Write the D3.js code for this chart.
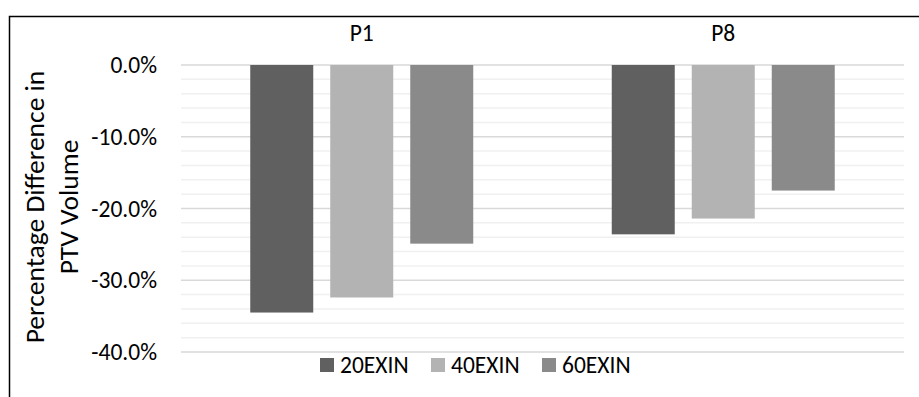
<!DOCTYPE html>
<html>
<head>
<meta charset="utf-8">
<script src="https://cdn.jsdelivr.net/npm/d3@7"></script>
<style>
  html, body { margin: 0; padding: 0; background: #fff; }
  svg { display: block; font-family: Carlito, Lato, "Open Sans", sans-serif; }
</style>
</head>
<body>
<svg id="chart" width="919" height="397"></svg>
<script>
// Patients (categories) and planning series
const categories = ["P1", "P8"];
const seriesNames = ["20EXIN", "40EXIN", "60EXIN"];
const values20 = [-34.5, -23.6];
const values40 = [-32.4, -21.4];
const values60 = [-24.9, -17.5];
const yTicks = [0, -10, -20, -30, -40];
const colors = ["#606060", "#b3b3b3", "#8a8a8a"];

const seriesValues = [values20, values40, values60];
const data = categories.map((c, i) => ({
  cat: c,
  vals: seriesNames.map((s, j) => ({ s, v: seriesValues[j][i], color: colors[j] }))
}));

const svg = d3.select("#chart");
const W = 919, H = 397;
const plot = { left: 181, right: 904, top: 65, bottom: 352 };
const fontTick = 23.5, fontTitle = 27.5;

// outer frame
svg.append("rect")
  .attr("x", 9.5).attr("y", 16.5)
  .attr("width", W).attr("height", H)
  .attr("fill", "none").attr("stroke", "#000").attr("stroke-width", 1.5);

const y = d3.scaleLinear().domain([-40, 0]).range([plot.bottom, plot.top]);
const x0 = d3.scaleBand().domain(categories).range([plot.left, plot.right]);
const outerGap = 69.25;
const x1 = d3.scaleBand().domain(seriesNames)
  .range([outerGap, x0.bandwidth() - outerGap])
  .paddingInner(17 / 80).paddingOuter(0);

// minor gridlines every 2%
const minor = d3.range(-40, 0.001, 2).filter(v => Math.abs(v % 10) > 0.001);
svg.append("g").selectAll("line").data(minor).join("line")
  .attr("x1", plot.left).attr("x2", plot.right)
  .attr("y1", d => y(d)).attr("y2", d => y(d))
  .attr("stroke", "#f0f0f0").attr("stroke-width", 1.5);

// major gridlines
svg.append("g").selectAll("line").data(yTicks).join("line")
  .attr("x1", plot.left).attr("x2", plot.right)
  .attr("y1", d => y(d)).attr("y2", d => y(d))
  .attr("stroke", "#d9d9d9").attr("stroke-width", 1.5);

// y axis labels (plain hyphen for negatives)
const pct = d => (d < 0 ? "-" : "") + Math.abs(d).toFixed(1) + "%";
const yAxis = d3.axisLeft(y).tickValues(yTicks).tickSize(0).tickPadding(0)
  .tickFormat(pct);
const gy = svg.append("g").attr("transform", `translate(157,0)`).call(yAxis);
gy.select(".domain").remove();
gy.selectAll("text").attr("font-size", fontTick).attr("fill", "#000")
  .attr("font-weight", 400)
  .attr("font-family", "Carlito, Lato, 'Open Sans', sans-serif");

// bars
const groups = svg.append("g").selectAll("g").data(data).join("g")
  .attr("transform", d => `translate(${x0(d.cat)},0)`);
groups.selectAll("rect").data(d => d.vals).join("rect")
  .attr("x", d => x1(d.s))
  .attr("width", x1.bandwidth())
  .attr("y", d => y(Math.max(0, d.v)))
  .attr("height", d => Math.abs(y(d.v) - y(0)))
  .attr("fill", d => d.color);

// category labels at top
svg.append("g").selectAll("text").data(categories).join("text")
  .attr("x", d => x0(d) + x0.bandwidth() / 2)
  .attr("y", 41)
  .attr("text-anchor", "middle")
  .attr("font-size", fontTick).attr("fill", "#000")
  .text(d => d);

// y axis title
const title = svg.append("text")
  .attr("transform", "translate(0,207) rotate(-90)")
  .attr("text-anchor", "middle").attr("font-size", fontTitle).attr("fill", "#000");
title.append("tspan").attr("x", 0).attr("y", 44).text("Percentage Difference in");
title.append("tspan").attr("x", 0).attr("y", 78).text("PTV Volume");

// legend
const legendX = [320, 431, 542];
const leg = svg.append("g").selectAll("g").data(seriesNames).join("g")
  .attr("transform", (d, i) => `translate(${legendX[i]},358)`);
leg.append("rect").attr("width", 14).attr("height", 14)
  .attr("fill", (d, i) => colors[i]);
leg.append("text").attr("x", 20).attr("y", 15)
  .attr("font-size", fontTick).attr("fill", "#000").text(d => d);
</script>
</body>
</html>
